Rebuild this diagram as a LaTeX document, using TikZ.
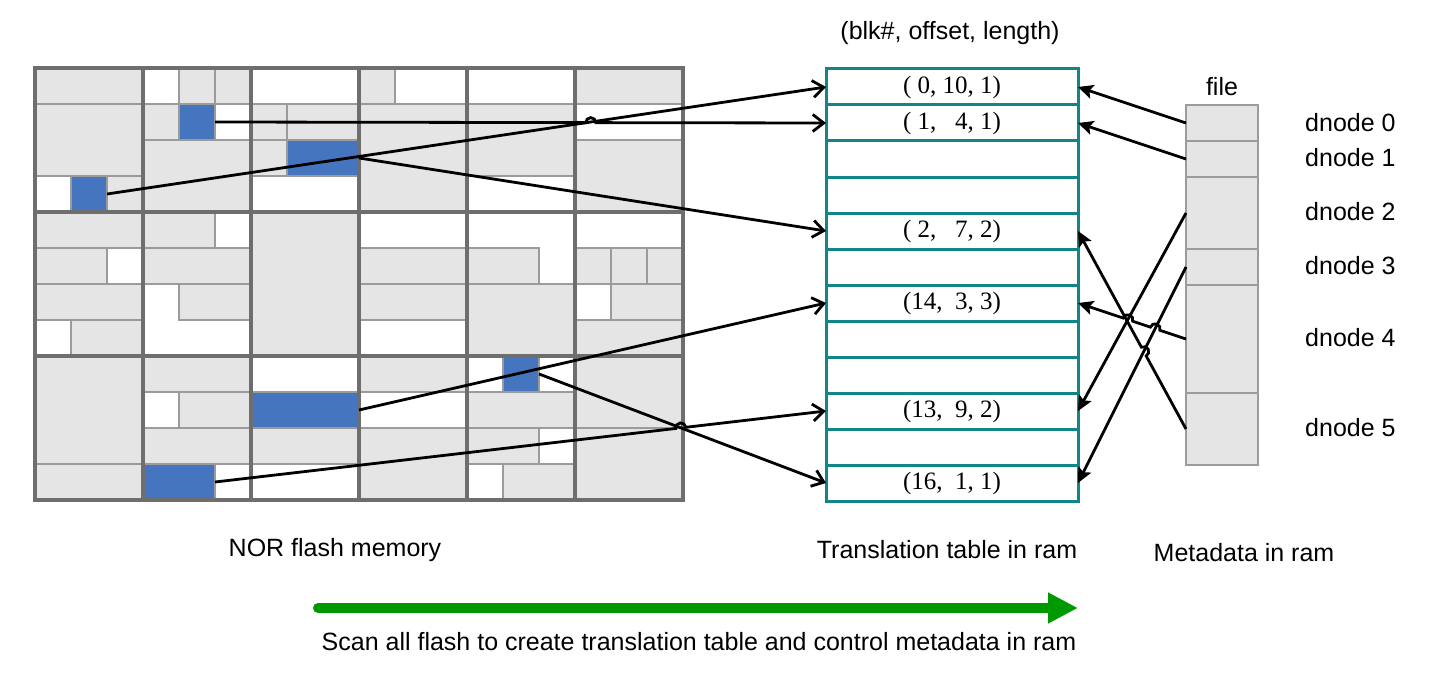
\documentclass[tikz,border=0pt]{standalone}
\usepackage{fontspec}
\setmainfont{Liberation Sans}
\newfontfamily\tabfont{Liberation Serif}
\usetikzlibrary{arrows.meta,calc}
\definecolor{cellgrey}{RGB}{229,229,229}
\definecolor{thingrey}{RGB}{155,155,155}
\definecolor{blockgrey}{RGB}{110,110,110}
\definecolor{cellblue}{RGB}{70,117,192}
\definecolor{tealc}{RGB}{18,134,134}
\definecolor{greenc}{RGB}{0,153,0}
\begin{document}
\begin{tikzpicture}[x=1pt,y=-1pt,
  greycell/.style={fill=cellgrey,draw=thingrey,line width=1.6pt},
  bluecell/.style={fill=cellblue,draw=thingrey,line width=1.6pt,inner sep=0pt,outer sep=0pt,minimum height=36pt},
  blockline/.style={draw=blockgrey,line width=3.2pt},
  trow/.style={draw=tealc,line width=3pt,minimum width=252pt,minimum height=36pt,inner sep=0pt,outer sep=0pt,font=\tabfont\fontsize{25}{30}\selectfont},
  fcell/.style={fill=cellgrey,draw=thingrey,line width=1.6pt,minimum width=72pt,inner sep=0pt,outer sep=0pt},
  lbl/.style={inner sep=0pt,font=\fontsize{25}{30}\selectfont},
  farr/.style={line width=2.8pt,-{Straight Barb[length=11pt,width=17pt]}},
  marr/.style={line width=2.8pt,-{Stealth[length=15pt,width=14pt,inset=3pt]}},
  garr/.style={draw=greenc,line width=10pt,line cap=round,-{Triangle[length=30pt,width=29pt]}}
]
\useasboundingbox (0,0) rectangle (1440,682);
% ---------------- NOR flash memory ----------------
\fill[white] (35,68) rectangle (683,500);
\foreach \c/\r/\w/\h in {0/0/3/1,0/1/3/2,2/3/1/1,
  4/0/1/1,5/0/1/1,3/1/1/1,3/2/3/2,
  6/1/1/1,7/1/2/1,6/2/1/1,
  9/0/1/1,9/1/3/3,
  12/1/3/2,
  15/0/3/1,15/2/3/2,
  0/4/3/1,0/5/2/1,0/6/3/1,1/7/2/1,
  3/4/2/1,3/5/3/1,4/6/2/1,
  6/4/3/4,
  9/5/3/1,9/6/3/1,
  12/5/2/1,12/6/3/2,
  15/5/1/1,16/5/1/1,17/5/1/1,16/6/2/1,15/7/3/1,
  0/8/3/3,0/11/3/1,
  3/8/3/1,4/9/2/1,3/10/3/1,
  6/10/3/1,
  9/8/3/1,9/10/3/2,
  12/9/3/1,12/10/2/1,13/11/2/1,
  15/8/3/2,15/10/3/2}
  \draw[greycell] ({35+36*\c},{68+36*\r}) rectangle ++({36*\w},{36*\h});
\node[bluecell,minimum width=36pt]  (b1) at (89,194) {};
\node[bluecell,minimum width=36pt]  (b2) at (197,122) {};
\node[bluecell,minimum width=72pt]  (b3) at (323,158) {};
\node[bluecell,minimum width=108pt] (b4) at (305,410) {};
\node[bluecell,minimum width=36pt]  (b5) at (521,374) {};
\node[bluecell,minimum width=72pt]  (b6) at (179,482) {};
\foreach \k in {1,...,5} \draw[blockline] ({35+108*\k},68) -- ({35+108*\k},500);
\foreach \k in {1,2} \draw[blockline] (35,{68+144*\k}) -- (683,{68+144*\k});
\draw[blockline] (35,68) rectangle (683,500);
% ---------------- translation table ----------------
\node[lbl] (title) at (950,33) {(blk\#, offset, length)};
\foreach \i in {0,...,11} \node[trow] (t\i) at (952,{87+36*\i}) {};
\node[trow,draw=none] at (t0)  {( 0, 10, 1)};
\node[trow,draw=none] at (t1)  {( 1,\ \ \ 4, 1)};
\node[trow,draw=none] at (t4)  {( 2,\ \ \ 7, 2)};
\node[trow,draw=none] at (t6)  {(14,\ \ 3, 3)};
\node[trow,draw=none] at (t9)  {(13,\ \ 9, 2)};
\node[trow,draw=none] at (t11) {(16,\ \ 1, 1)};
% ---------------- file metadata ----------------
\node[lbl] (filelbl) at (1222,87) {file};
\node[fcell,minimum height=36pt]  (f0) at (1222,123) {};
\node[fcell,minimum height=36pt]  (f1) at (1222,159) {};
\node[fcell,minimum height=72pt]  (f2) at (1222,213) {};
\node[fcell,minimum height=36pt]  (f3) at (1222,267) {};
\node[fcell,minimum height=108pt] (f4) at (1222,339) {};
\node[fcell,minimum height=72pt]  (f5) at (1222,429) {};
\node[lbl,anchor=west] (d0) at (1305,123) {dnode 0};
\node[lbl,anchor=west] (d1) at (1305,158) {dnode 1};
\node[lbl,anchor=west] (d2) at (1305,212) {dnode 2};
\node[lbl,anchor=west] (d3) at (1305,266) {dnode 3};
\node[lbl,anchor=west] (d4) at (1305,338) {dnode 4};
\node[lbl,anchor=west] (d5) at (1305,428) {dnode 5};
% ---------------- flash -> table arrows ----------------
\draw[farr] (b1.east) -- (t0.west);
\draw[farr] let \p1=($(t1.west)-(b2.east)$), \n1={atan2(-\y1,\x1)} in
  (b2.east) -- ($(b2.east)!0.615!(t1.west)!5pt!(b2.east)$)
  arc[start angle=\n1+180,delta angle=180,radius=5] -- (t1.west);
\draw[farr] (b3.east) -- (t4.west);
\draw[farr] (b4.east) -- (t6.west);
\draw[farr] (b5.east) -- (t11.west);
\draw[farr] let \p1=($(t9.west)-(b6.east)$), \n1={atan2(-\y1,\x1)} in
  (b6.east) -- ($(b6.east)!0.7624!(t9.west)!5pt!(b6.east)$)
  arc[start angle=\n1+180,delta angle=180,radius=5] -- (t9.west);
% ---------------- metadata -> table arrows ----------------
\draw[marr] (f0.west) -- (t0.east);
\draw[marr] (f1.west) -- (t1.east);
\draw[marr] (f2.west) -- (t9.east);
\draw[marr] (f3.west) -- (t11.east);
\draw[marr] let \p1=($(t6.east)-(f4.west)$), \n1={atan2(-\y1,\x1)} in
  (f4.west) -- ($(f4.west)!0.2857!(t6.east)!5pt!(f4.west)$)
  arc[start angle=\n1+180,delta angle=-180,radius=5]
  -- ($(f4.west)!0.538!(t6.east)!5pt!(f4.west)$)
  arc[start angle=\n1+180,delta angle=-180,radius=5] -- (t6.east);
\draw[marr] let \p1=($(t4.east)-(f5.west)$), \n1={atan2(-\y1,\x1)} in
  (f5.west) -- ($(f5.west)!0.391!(t4.east)!5pt!(f5.west)$)
  arc[start angle=\n1+180,delta angle=-180,radius=5] -- (t4.east);
% ---------------- captions ----------------
\node[lbl] (cap1) at (335,550) {NOR flash memory};
\node[lbl] (cap2) at (947,550) {Translation table in ram};
\node[lbl] (cap3) at (1244,553) {Metadata in ram};
\coordinate (g0) at (318,608);
\coordinate (g1) at (1078,608);
\draw[garr] (g0) -- (g1);
\node[lbl] (cap4) at (699,642) {Scan all flash to create translation table and control metadata in ram};
\end{tikzpicture}
\end{document}
